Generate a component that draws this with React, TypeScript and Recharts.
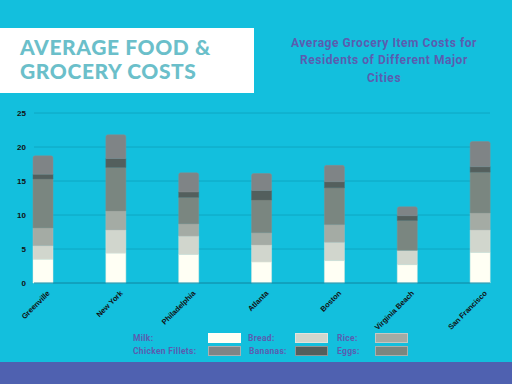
import React from "react";
import { BarChart, Bar, XAxis, YAxis, CartesianGrid } from "recharts";

const cities = ["Greenville", "New York", "Philadelphia", "Atlanta", "Boston", "Virginia Beach", "San Francisco"];
const milk = [3.5, 4.4, 4.2, 3.1, 3.3, 2.7, 4.5];
const bread = [2.0, 3.4, 2.7, 2.5, 2.7, 2.1, 3.3];
const rice = [2.6, 2.8, 1.8, 1.8, 2.6, 0, 2.5];
const eggs = [7.2, 6.4, 3.9, 4.8, 5.4, 4.4, 6.0];
const bananas = [0.7, 1.3, 0.8, 1.4, 0.9, 0.7, 0.8];
const chicken = [2.7, 3.5, 2.8, 2.5, 2.4, 1.3, 3.7];
const yTicks = [0, 5, 10, 15, 20, 25];

const data = cities.map((c, i) => ({
  city: c,
  milk: milk[i],
  bread: bread[i],
  rice: rice[i],
  eggs: eggs[i],
  bananas: bananas[i],
  chicken: chicken[i],
}));

const COLORS = {
  milk: "#fffff4",
  bread: "#d1d6cd",
  rice: "#a4aba4",
  chicken: "#7f8486",
  bananas: "#535f5d",
  eggs: "#7a8680",
};

const legendItems = [
  { label: "Milk:", color: COLORS.milk, x: 133, sx: 208, y: 333 },
  { label: "Bread:", color: COLORS.bread, x: 248, sx: 295, y: 333 },
  { label: "Rice:", color: COLORS.rice, x: 337, sx: 375, y: 333 },
  { label: "Chicken Fillets:", color: COLORS.chicken, x: 133, sx: 208, y: 346 },
  { label: "Bananas:", color: COLORS.bananas, x: 249, sx: 295, y: 346 },
  { label: "Eggs:", color: COLORS.eggs, x: 337, sx: 375, y: 346 },
];

const XTick = (props: any) => {
  const { x, y, payload } = props;
  return (
    <g transform={`translate(${x + 5},${y + 1}) rotate(-45)`}>
      <text
        x={0}
        y={0}
        dy="0.35em"
        textAnchor="end"
        fontSize={7.5}
        fontWeight="bold"
        fontFamily="Liberation Sans, Arial, sans-serif"
        fill="#111"
      >
        {payload.value}
      </text>
    </g>
  );
};

export default function App() {
  return (
    <div
      style={{
        position: "absolute",
        left: 0,
        top: 0,
        width: 512,
        height: 384,
        background: "#13bfdd",
        overflow: "hidden",
        fontFamily: "Roboto, sans-serif",
      }}
    >
      <div style={{ position: "absolute", left: 0, top: 28, width: 254, height: 65, background: "#ffffff" }} />
      <div
        style={{
          position: "absolute",
          left: 20,
          top: 35,
          fontFamily: "Lato, sans-serif",
          fontWeight: 900,
          fontSize: 21,
          lineHeight: "23.5px",
          letterSpacing: 0.6,
          color: "#6bbfca",
          whiteSpace: "nowrap",
        }}
      >
        AVERAGE FOOD &amp;
        <br />
        GROCERY COSTS
      </div>
      <div
        style={{
          position: "absolute",
          left: 264,
          top: 35,
          width: 240,
          textAlign: "center",
          fontFamily: "Roboto, sans-serif",
          fontWeight: 700,
          fontSize: 12,
          lineHeight: "17.3px",
          letterSpacing: 0.55,
          color: "#5a5db0",
        }}
      >
        Average Grocery Item Costs for
        <br />
        Residents of Different Major
        <br />
        Cities
      </div>
      <div style={{ position: "absolute", left: 0, top: 0 }}>
        <BarChart
          width={512}
          height={384}
          data={data}
          margin={{ top: 113, right: 22, bottom: 51, left: 0 }}
        >
          <CartesianGrid vertical={false} stroke="#0fa6c2" strokeWidth={1} />
          <XAxis
            dataKey="city"
            interval={0}
            height={50}
            padding={{ left: -27, right: -27 }}
            tickLine={false}
            axisLine={{ stroke: "#1290ad", strokeWidth: 1 }}
            tick={<XTick />}
          />
          <YAxis
            width={34}
            domain={[0, 25]}
            ticks={yTicks}
            tickLine={false}
            axisLine={false}
            tick={{ fontSize: 8, fontWeight: "bold", fill: "#111", fontFamily: "Liberation Sans, Arial, sans-serif" }}
          />
          <Bar dataKey="milk" stackId="a" fill={COLORS.milk} stroke="#e8ece0" strokeWidth={0.5} barSize={20} isAnimationActive={false} />
          <Bar dataKey="bread" stackId="a" fill={COLORS.bread} stroke="#dde2d8" strokeWidth={0.5} barSize={20} isAnimationActive={false} />
          <Bar dataKey="rice" stackId="a" fill={COLORS.rice} stroke="#b0b6b0" strokeWidth={0.5} barSize={20} isAnimationActive={false} />
          <Bar dataKey="eggs" stackId="a" fill={COLORS.eggs} stroke="#86918b" strokeWidth={0.5} barSize={20} isAnimationActive={false} />
          <Bar dataKey="bananas" stackId="a" fill={COLORS.bananas} stroke="#5f6a68" strokeWidth={0.5} barSize={20} isAnimationActive={false} />
          <Bar dataKey="chicken" stackId="a" fill={COLORS.chicken} stroke="#8a8f91" strokeWidth={0.5} barSize={20} radius={[2, 2, 0, 0]} isAnimationActive={false} />
        </BarChart>
      </div>
      {legendItems.map((it) => (
        <React.Fragment key={it.label}>
          <div
            style={{
              position: "absolute",
              left: it.x,
              top: it.y,
              height: 10,
              lineHeight: "10px",
              fontFamily: "Roboto, sans-serif",
              fontWeight: 700,
              fontSize: 8.5,
              letterSpacing: 0.3,
              color: "#5a5db0",
              whiteSpace: "nowrap",
            }}
          >
            {it.label}
          </div>
          <div
            style={{
              position: "absolute",
              left: it.sx,
              top: it.y,
              width: 31,
              height: 8,
              background: it.color,
              border: "1px solid rgba(255,255,255,0.35)",
            }}
          />
        </React.Fragment>
      ))}
      <div style={{ position: "absolute", left: 0, top: 362, width: 512, height: 22, background: "#4f61b0" }} />
    </div>
  );
}
